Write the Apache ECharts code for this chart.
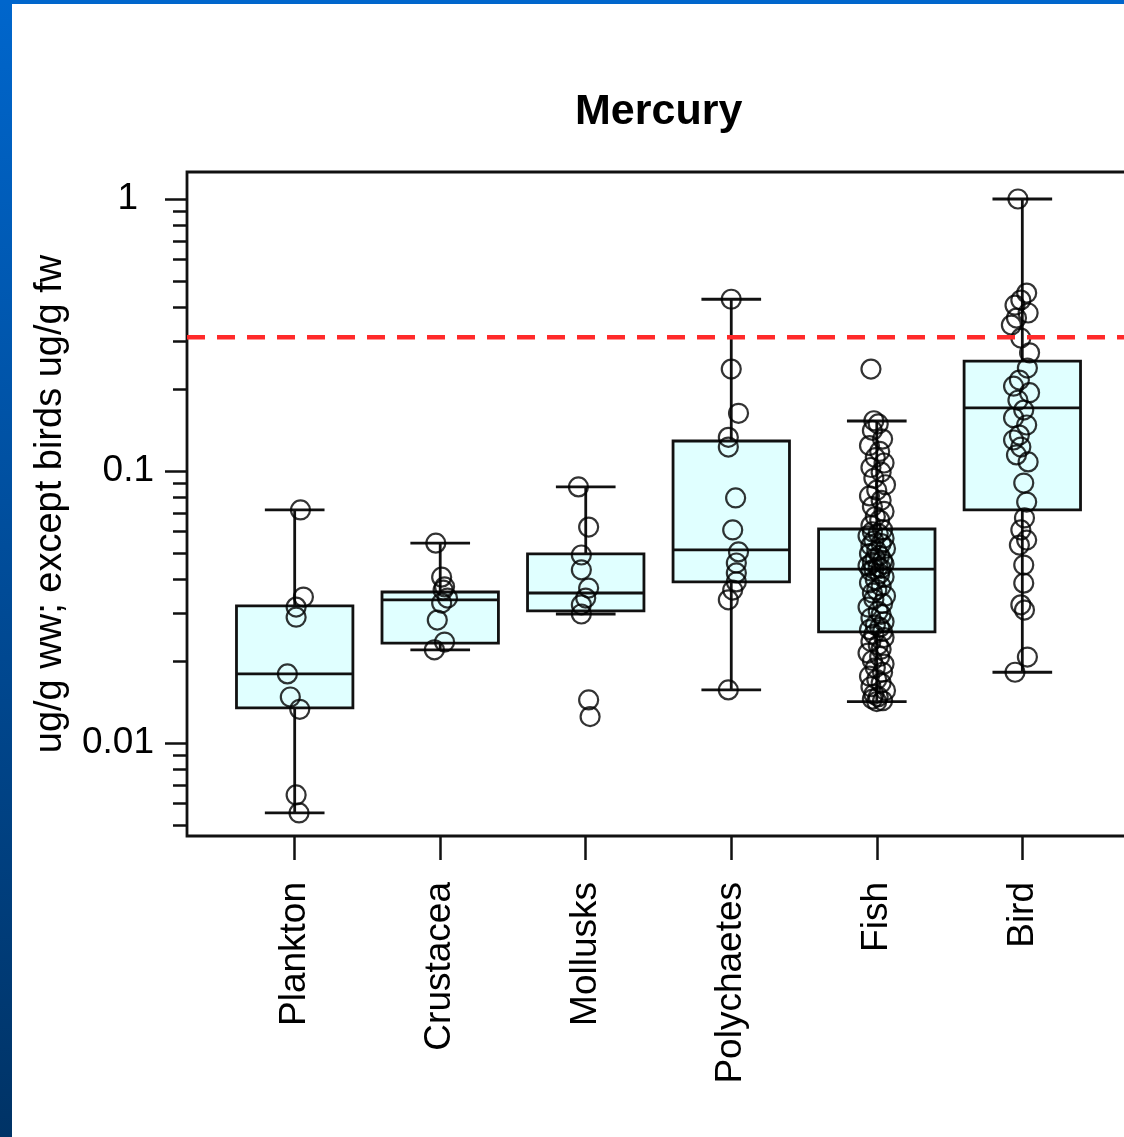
<!DOCTYPE html>
<html><head><meta charset="utf-8">
<script src="https://cdn.jsdelivr.net/npm/echarts@6/dist/echarts.min.js"></script>
<style>html,body{margin:0;padding:0;background:#fff;overflow:hidden;width:1124px;height:1137px}#c{width:1140px;height:1137px}</style>
</head><body><div id="c"></div>
<script>
const categories = ['Plankton', 'Crustacea', 'Mollusks', 'Polychaetes', 'Fish', 'Bird'];
const titleText = 'Mercury';
const yAxisTitle = 'ug/g ww; except birds ug/g fw';
const yTickValues = [0.01, 0.1, 1];
const yTickLabels = ['0.01', '0.1', '1'];
const yMinorTicks = [0.005, 0.006, 0.007, 0.008, 0.009, 0.02, 0.03, 0.04, 0.05, 0.06, 0.07, 0.08, 0.09,
  0.2, 0.3, 0.4, 0.5, 0.6, 0.7, 0.8, 0.9];
const thresholdValue = 0.31;

// box statistics per category
const boxMin    = [0.00553, 0.0220, 0.0298, 0.01567, 0.0142, 0.0182];
const boxQ1     = [0.01346, 0.0233, 0.0306, 0.0391, 0.0256, 0.0719];
const boxMedian = [0.01795, 0.0336, 0.0356, 0.0513, 0.0436, 0.1706];
const boxQ3     = [0.0319, 0.0359, 0.0496, 0.1289, 0.0612, 0.2535];
const boxMax    = [0.0719, 0.0543, 0.0874, 0.428, 0.1527, 1.0];

// individual observations and their horizontal jitter (category units)
const planktonValues = [0.0719, 0.0344, 0.0316, 0.0290, 0.01795, 0.01476, 0.0133, 0.00644, 0.00553];
const planktonJitter = [0.04, 0.06, 0.01, 0.01, -0.05, -0.03, 0.035, 0.01, 0.03];
const crustaceaValues = [0.0543, 0.0407, 0.0375, 0.0365, 0.0341, 0.0327, 0.0283, 0.0235, 0.0220];
const crustaceaJitter = [-0.03, 0.01, 0.03, 0.02, 0.05, 0.01, -0.02, 0.03, -0.04];
const molluskValues = [0.0874, 0.0622, 0.0491, 0.0433, 0.0371, 0.0341, 0.0322, 0.0298, 0.0144, 0.0125];
const molluskJitter = [-0.05, 0.02, -0.03, -0.03, 0.02, 0.0, -0.03, -0.03, 0.02, 0.03];
const polychaeteValues = [0.428, 0.237, 0.163, 0.133, 0.1225, 0.0796, 0.0607, 0.0504, 0.0459, 0.0422, 0.0391, 0.0365, 0.0336, 0.01567];
const polychaeteJitter = [0.0, 0.0, 0.05, -0.02, -0.02, 0.03, 0.01, 0.05, 0.035, 0.035, 0.035, 0.01, -0.02, -0.02];
const fishValues = [0.237, 0.153, 0.149, 0.141, 0.131, 0.124, 0.118, 0.112, 0.107, 0.103, 0.099, 0.094, 0.089, 0.085, 0.081, 0.078, 0.074, 0.071, 0.068, 0.066, 0.063,
  0.0608, 0.0598, 0.0589, 0.0577, 0.0566, 0.0553, 0.0541, 0.0532, 0.0519, 0.0508, 0.0497, 0.0489, 0.0478, 0.0469, 0.0461, 0.0455, 0.0448, 0.0443, 0.0438, 0.0436,
  0.0429, 0.0419, 0.0408, 0.0399, 0.0388, 0.0377, 0.0366, 0.0356, 0.0347, 0.0338, 0.0326, 0.0316, 0.0305, 0.0297, 0.0288, 0.0279, 0.0271, 0.0266, 0.0261, 0.0257,
  0.0251, 0.0244, 0.0236, 0.0229, 0.0221, 0.0214, 0.0208, 0.0201, 0.0195, 0.0189, 0.0182, 0.0176, 0.0171, 0.0166, 0.0161, 0.0156, 0.0151, 0.0148, 0.0145, 0.0143, 0.0142];
const fishJitter = [-0.04, -0.02, 0.01, -0.03, 0.04, -0.05, 0.02, -0.01, 0.05, -0.04, 0.03, -0.02, 0.06, 0.0, -0.05, 0.03, -0.03, 0.05, -0.01, 0.02, -0.04,
  0.04, -0.03, 0.01, -0.06, 0.05, -0.02, 0.03, -0.04, 0.06, 0.0, -0.05, 0.02, -0.01, 0.04, -0.03, 0.05, -0.06, 0.01, 0.03, -0.02,
  -0.04, 0.02, 0.05, -0.01, -0.05, 0.03, 0.0, -0.03, 0.06, -0.02, 0.04, -0.06, 0.01, 0.03, -0.04, 0.05, -0.01, 0.02, -0.05, 0.04,
  -0.02, 0.05, -0.04, 0.01, 0.03, -0.06, 0.02, -0.03, 0.05, -0.01, 0.04, -0.05, 0.0, 0.03, -0.04, 0.06, -0.02, 0.01, -0.03, 0.04, 0.0];
const birdValues = [1.0, 0.451, 0.425, 0.407, 0.381, 0.365, 0.344, 0.308, 0.272, 0.239, 0.216, 0.205, 0.194, 0.182, 0.1675, 0.157, 0.1476,
  0.1355, 0.130, 0.1225, 0.1146, 0.108, 0.0903, 0.0769, 0.0672, 0.0607, 0.0557, 0.0534, 0.0451, 0.0387, 0.0322, 0.0308, 0.0207, 0.0182];
const birdJitter = [-0.03, 0.03, -0.01, -0.05, 0.04, -0.04, -0.075, -0.01, 0.05, 0.035, -0.02, -0.06, 0.05, -0.03, 0.01, -0.06, 0.03,
  -0.02, -0.06, -0.01, -0.04, 0.04, 0.01, 0.03, 0.015, -0.01, 0.03, -0.02, 0.01, 0.01, -0.01, 0.015, 0.035, -0.05];

const groupValues = [planktonValues, crustaceaValues, molluskValues, polychaeteValues, fishValues, birdValues];
const groupJitter = [planktonJitter, crustaceaJitter, molluskJitter, polychaeteJitter, fishJitter, birdJitter];

const boxData = categories.map((c, i) => [i + 1, boxMin[i], boxQ1[i], boxMedian[i], boxQ3[i], boxMax[i]]);
const pointData = [];
groupValues.forEach((vals, i) => vals.forEach((v, j) => pointData.push([i + 1 + groupJitter[i][j], v])));

const FONT = 'Liberation Sans, Arial, Helvetica, sans-serif';
const X_MIN = 0.26, X_MAX = 6.74;
const Y_MIN = 0.00455, Y_MAX = 1.257;

function renderBox(params, api) {
  const x = api.value(0);
  const v = [1, 2, 3, 4, 5].map(k => api.value(k));
  const y = v.map(val => api.coord([x, val])[1]);
  const xc = api.coord([x, v[2]])[0];
  const xl = api.coord([x - 0.4, v[2]])[0];
  const xr = api.coord([x + 0.4, v[2]])[0];
  const cl = api.coord([x - 0.205, v[2]])[0];
  const cr = api.coord([x + 0.205, v[2]])[0];
  const ls = { stroke: '#111', lineWidth: 2.8 };
  return {
    type: 'group',
    children: [
      { type: 'line', shape: { x1: xc, y1: y[0], x2: xc, y2: y[1] }, style: ls },
      { type: 'line', shape: { x1: xc, y1: y[3], x2: xc, y2: y[4] }, style: ls },
      { type: 'line', shape: { x1: cl, y1: y[0], x2: cr, y2: y[0] }, style: ls },
      { type: 'line', shape: { x1: cl, y1: y[4], x2: cr, y2: y[4] }, style: ls },
      { type: 'rect', shape: { x: xl, y: y[3], width: xr - xl, height: y[1] - y[3] },
        style: { fill: '#e0ffff', stroke: '#111', lineWidth: 2.8 } },
      { type: 'line', shape: { x1: xl, y1: y[2], x2: xr, y2: y[2] }, style: ls }
    ]
  };
}

const chart = echarts.init(document.getElementById('c'), null, { renderer: 'canvas' });
chart.setOption({
  animation: false,
  backgroundColor: '#ffffff',
  title: {
    text: titleText, left: 575, top: 91, padding: 0,
    textStyle: { fontFamily: FONT, fontSize: 43, fontWeight: 'bold', color: '#000' }
  },
  graphic: [
    { type: 'rect', shape: { x: 0, y: 0, width: 12, height: 1137 }, silent: true,
      style: { fill: new echarts.graphic.LinearGradient(0, 0, 0, 1, [
        { offset: 0, color: '#0066cc' }, { offset: 0.5, color: '#004c99' }, { offset: 1, color: '#003366' }]) } },
    { type: 'rect', shape: { x: 0, y: 0, width: 1140, height: 4 }, silent: true, style: { fill: '#0066cc' } }
  ],
  grid: {
    left: 187, top: 172, bottom: 301, width: 943,
    show: true, borderColor: '#111', borderWidth: 2.8, backgroundColor: 'transparent', containLabel: false
  },
  xAxis: {
    type: 'value', min: X_MIN, max: X_MAX,
    axisLine: { show: false }, splitLine: { show: false },
    axisTick: { show: true, customValues: [1, 2, 3, 4, 5, 6], length: 24, lineStyle: { color: '#111', width: 2.5 } },
    axisLabel: {
      customValues: [1, 2, 3, 4, 5, 6], rotate: 90, margin: 46,
      formatter: v => categories[Math.round(v) - 1],
      fontFamily: FONT, fontSize: 37, color: '#000'
    }
  },
  yAxis: [
    {
      type: 'log', logBase: 10, min: Y_MIN, max: Y_MAX,
      axisLine: { show: false }, splitLine: { show: false },
      axisTick: { show: true, customValues: yTickValues, length: 22, lineStyle: { color: '#111', width: 2.5 } },
      axisLabel: {
        customValues: yTickValues, margin: 33,
        formatter: v => {
          const lab = yTickLabels[yTickValues.findIndex(t => Math.abs(Math.log10(t) - Math.log10(v)) < 1e-6)];
          return lab === '1' ? '{one|' + lab + '}' : lab;
        },
        rich: { one: { fontFamily: FONT, fontSize: 37, color: '#000', padding: [0, 16, 0, 0] } },
        fontFamily: FONT, fontSize: 37, color: '#000'
      },
      name: yAxisTitle, nameLocation: 'middle', nameRotate: 90, nameGap: 117,
      nameTextStyle: { fontFamily: FONT, fontSize: 38, color: '#000' }
    },
    {
      type: 'log', logBase: 10, min: Y_MIN, max: Y_MAX, position: 'left',
      axisLine: { show: false }, splitLine: { show: false },
      axisTick: { show: true, customValues: yMinorTicks, length: 14, lineStyle: { color: '#111', width: 2.5 } },
      axisLabel: { show: false }
    }
  ],
  series: [
    {
      type: 'custom', renderItem: renderBox, data: boxData, silent: true,
      encode: { x: 0, y: [1, 2, 3, 4, 5] }, z: 2
    },
    {
      type: 'scatter', data: pointData, silent: true, symbol: 'circle', symbolSize: 19,
      itemStyle: { color: 'transparent', borderColor: '#000', borderWidth: 2.2 }, z: 3
    },
    {
      type: 'line', data: [[X_MIN, thresholdValue], [X_MAX, thresholdValue]], silent: true,
      symbol: 'none', lineStyle: { color: '#ff2a2a', width: 4.5, type: [18, 12] }, z: 4
    }
  ]
});
</script></body></html>
